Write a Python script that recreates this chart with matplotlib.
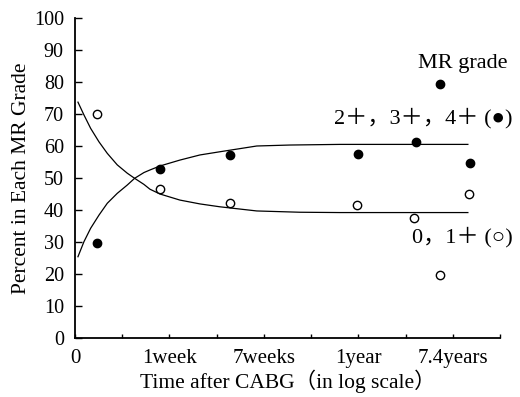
import matplotlib
matplotlib.use('Agg')
import matplotlib.pyplot as plt

# tick slots on the x axis (log-time, evenly spaced slots 0..9)
x_ticks = [0, 1, 2, 3, 4, 5, 6, 7, 8, 9]
x_labels = ['0', '', '1week', '', '7weeks', '', '1year', '', '7.4years', '']
y_ticks = [0, 10, 20, 30, 40, 50, 60, 70, 80, 90, 100]

# MR grade 2+, 3+, 4+ (filled)
severe_x = [0.47, 1.80, 3.28, 6.00, 7.23, 7.74, 8.37]
severe_y = [29.7, 52.8, 57.2, 57.5, 61.2, 79.4, 54.7]

# MR grade 0, 1+ (open)
mild_x = [0.47, 1.80, 3.28, 5.98, 7.17, 7.74, 8.35]
mild_y = [70.0, 46.6, 42.2, 41.6, 37.5, 19.7, 45.0]

# fitted curves
rise_x = [0.063, 0.19, 0.332, 0.508, 0.684, 0.895, 1.107, 1.263, 1.46, 1.587,
          1.799, 2.222, 2.646, 3.069, 3.85, 4.55, 5.61, 8.32]
rise_y = [25.4, 30.1, 34.3, 38.4, 42.1, 45.2, 47.8, 49.9, 51.7, 52.5,
          53.75, 55.6, 57.2, 58.2, 60.0, 60.3, 60.5, 60.5]
fall_x = [0.063, 0.19, 0.332, 0.508, 0.684, 0.895, 1.107, 1.263, 1.46, 1.587,
          1.799, 2.222, 2.646, 3.069, 3.85, 4.76, 5.61, 8.32]
fall_y = [73.7, 69.7, 65.5, 61.3, 57.7, 54.1, 51.5, 49.9, 48.0, 46.5,
          45.0, 43.1, 41.9, 41.0, 39.7, 39.3, 39.2, 39.2]

serif = ['Liberation Serif', 'Noto Sans CJK JP', 'DejaVu Serif']
plt.rcParams['font.family'] = serif

fig = plt.figure(figsize=(5.2, 3.97), dpi=100)
ax = fig.add_axes([0.1442, 0.1486, 0.8173, 0.8061])

ax.plot(rise_x, rise_y, color='black', lw=0.9)
ax.plot(fall_x, fall_y, color='black', lw=0.9)
ax.plot(severe_x, severe_y, 'o', color='black', markersize=6, zorder=3)
ax.plot(mild_x, mild_y, 'o', markerfacecolor='white', markeredgecolor='black',
        markeredgewidth=1.0, markersize=6, zorder=3)

ax.set_xlim(0, 9)
ax.set_ylim(0, 100)
ax.set_xticks(x_ticks)
ax.set_xticklabels(x_labels)
ax.set_yticks(y_ticks)

for s in ['top', 'right']:
    ax.spines[s].set_visible(False)
for s in ['left', 'bottom']:
    ax.spines[s].set_linewidth(1.3)

ax.tick_params(axis='x', direction='in', length=3, width=1, labelsize=15, pad=8)
ax.tick_params(axis='y', direction='in', length=5, width=1, labelsize=14.5, pad=8)

ax.set_xlabel('Time after CABG\uff08in log scale\uff09', fontsize=15.5, labelpad=1)
ax.set_ylabel('Percent in Each MR Grade', fontsize=15.5, labelpad=2)

ax.text(8.21, 85.9, 'MR grade', fontsize=16, ha='center', va='center')
ax.text(9.27, 68.8, '2\uff0b\uff0c3\uff0b\uff0c4\uff0b (\u25cf)', fontsize=16,
        ha='right', va='center')
ax.text(9.27, 31.6, '0\uff0c1\uff0b (\u25cb)', fontsize=16, ha='right', va='center')

fig.savefig('out.png', dpi=100)
